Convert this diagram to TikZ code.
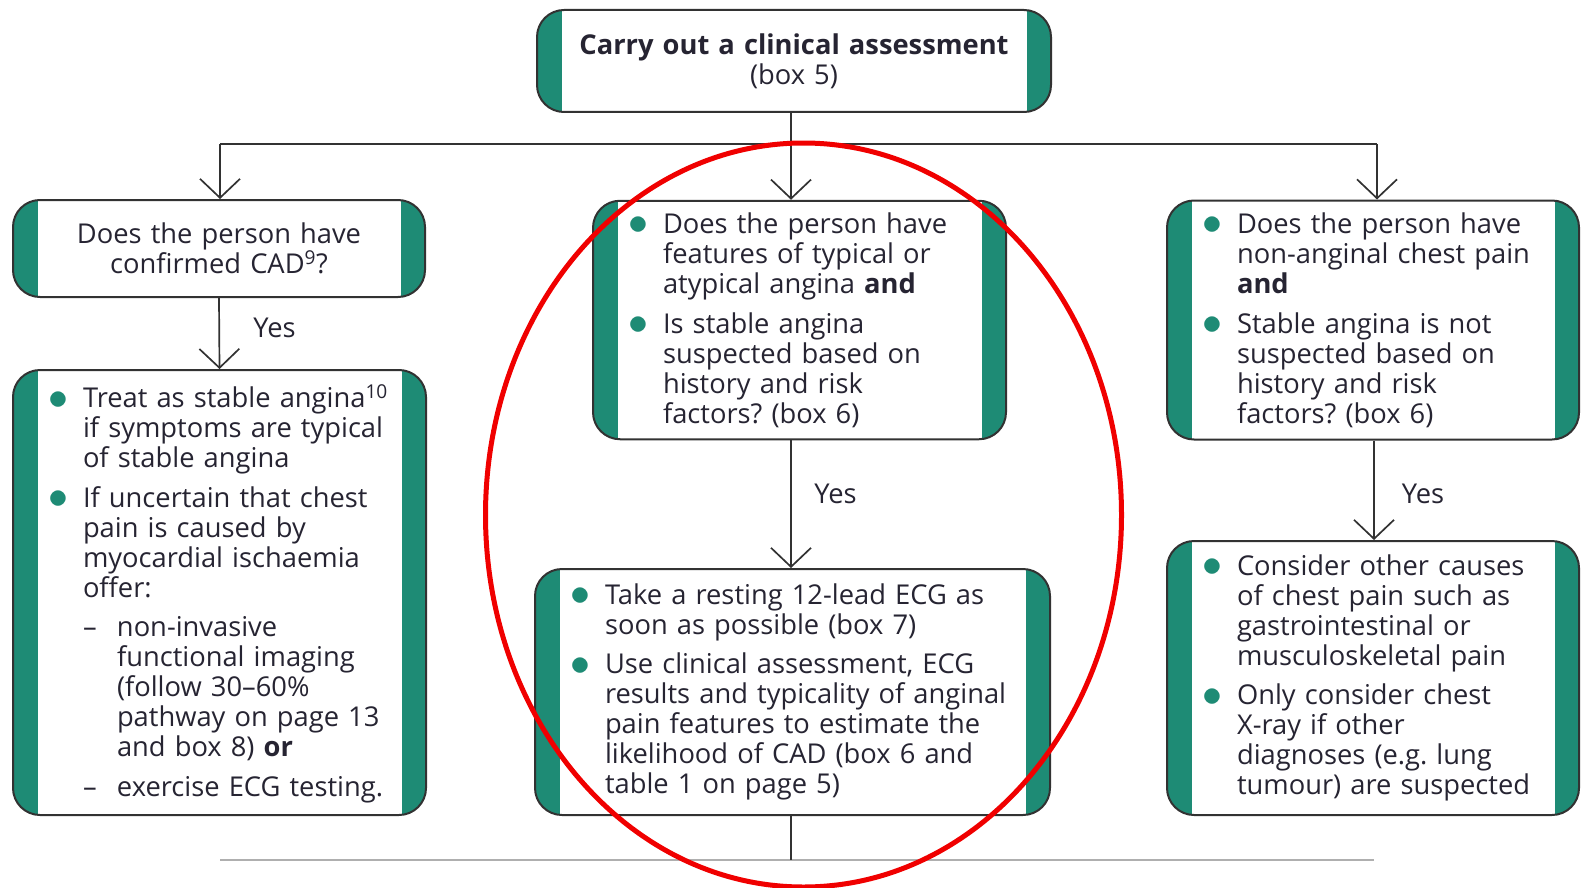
\documentclass[tikz,border=0pt]{standalone}
\usepackage{fontspec}
\setmainfont{Open Sans}
\usepackage{graphicx}
\usetikzlibrary{arrows.meta}
\definecolor{kgreen}{RGB}{30,139,117}
\definecolor{kline}{RGB}{50,50,50}
\definecolor{ktext}{RGB}{38,36,50}
\definecolor{kgray}{RGB}{175,175,175}
\definecolor{kred}{RGB}{240,0,0}
\frenchspacing
\newcommand{\kfont}{\fontsize{27.3}{30}\selectfont}
\newcommand{\kbul}{\textcolor{kgreen}{\raisebox{-1.2pt}{\scalebox{1.6}{$\bullet$}}}}
\newcommand{\kitem}[1]{\par\noindent\hangindent=50pt\hangafter=1
  \makebox[50pt][l]{\hspace{15.7pt}\kbul}{\let\\\newline#1}\par}
\newcommand{\kdash}[1]{\par\noindent\hangindent=84pt\hangafter=1
  \hspace*{50pt}\makebox[34pt][l]{--}{\let\\\newline#1}\par}
\newcommand{\kgap}{\vspace{9.5pt}}
\newcommand{\kend}{\par\vspace{9pt}}
\tikzset{
  kbox/.style={draw=kline,line width=2pt,fill=white,rounded corners=27pt,
    inner xsep=20pt,inner ysep=0pt,font=\kfont,text=ktext,align=left,
    path picture={
      \fill[kgreen,sharp corners](path picture bounding box.south west)rectangle([xshift=24.5pt]path picture bounding box.north west);
      \fill[kgreen,sharp corners](path picture bounding box.south east)rectangle([xshift=-24.5pt]path picture bounding box.north east);}},
  karrow/.style={draw=kline,line width=1.7pt,-{Straight Barb[length=19pt,width=40pt]}},
  kconn/.style={draw=kline,line width=1.7pt},
  kbase/.style={draw=kgray,line width=1.5pt},
  kyes/.style={font=\kfont,text=ktext,inner sep=0pt}
}
\begin{document}
\begin{tikzpicture}[x=1pt,y=-1pt]
\useasboundingbox (0,0) rectangle (1581,888);
% boxes
\node[kbox,align=center,text width=474,minimum width=514,minimum height=102] (top) at (794,61)
  {\textbf{Carry out a clinical assessment}\\(box 5)};
\node[kbox,align=center,text width=372,minimum width=412,minimum height=97] (lq) at (219,248.5)
  {Does the person have\\confirmed CAD\textsuperscript{9}?};
\node[kbox,text width=373,minimum width=413,minimum height=445] (la) at (219.5,592.5){%
  \kitem{Treat as stable angina\textsuperscript{10}\\if symptoms are typical\\of stable angina}\kgap
  \kitem{If uncertain that chest\\pain is caused by\\myocardial ischaemia\\offer:}\kgap
  \kdash{non-invasive\\functional imaging\\(follow 30--60\%\\pathway on page 13\\and box 8) \textbf{or}}\kgap
  \kdash{exercise ECG testing.}\par\vspace{4pt}};
\node[kbox,text width=373,minimum width=413,minimum height=238.5] (mq) at (799.5,320){%
  \kitem{Does the person have\\features of typical or\\atypical angina \textbf{and}}\kgap
  \kitem{Is stable angina\\suspected based on\\history and risk\\factors? (box 6)}\kend};
\node[kbox,text width=475,minimum width=515,minimum height=246] (ma) at (792.5,692){%
  \kitem{Take a resting 12-lead ECG as\\soon as possible (box 7)}\kgap
  \kitem{Use clinical assessment, ECG\\results and typicality of anginal\\pain features to estimate the\\likelihood of CAD (box 6 and\\table 1 on page 5)}\kend};
\node[kbox,text width=372,minimum width=412,minimum height=239] (rq) at (1373,320){%
  \kitem{Does the person have\\non-anginal chest pain\\\textbf{and}}\kgap
  \kitem{Stable angina is not\\suspected based on\\history and risk\\factors? (box 6)}\kend};
\node[kbox,text width=372,minimum width=412,minimum height=274] (ra) at (1373,678){%
  \kitem{Consider other causes\\of chest pain such as\\gastrointestinal or\\musculoskeletal pain}\kgap
  \kitem{Only consider chest\\X-ray if other\\diagnoses (e.g. lung\\tumour) are suspected}\kend};
% connectors
\coordinate (hl) at (220,144);
\coordinate (hm) at (791,144);
\coordinate (hr) at (1377,144);
\coordinate (bl) at (220,860);
\coordinate (br) at (1374,860);
\draw[kconn] (hl) -- (hr);
\draw[kconn] (hm |- top.south) -- (hm);
\foreach \kc/\kn in {hl/lq,hm/mq,hr/rq}{\draw[karrow] (\kc) -- (\kc |- \kn.north);}
\draw[karrow] (lq.south) -- (la.north);
\draw[karrow] (hm |- mq.south) -- (hm |- ma.north);
\draw[karrow] ([xshift=1pt]rq.south) -- ([xshift=1pt]ra.north);
\draw[kbase] (bl) -- (br);
\draw[kconn] (hm |- ma.south) -- (hm |- bl);
\foreach \kn/\kx/\ky in {yl/274.5/328,ym/835.5/494,yr/1423/494}{\node[kyes] (\kn) at (\kx,\ky) {Yes};}
% red ring
\draw[kred,line width=5pt] (803.5,515) ellipse [x radius=318pt,y radius=372pt];
\end{tikzpicture}
\end{document}
